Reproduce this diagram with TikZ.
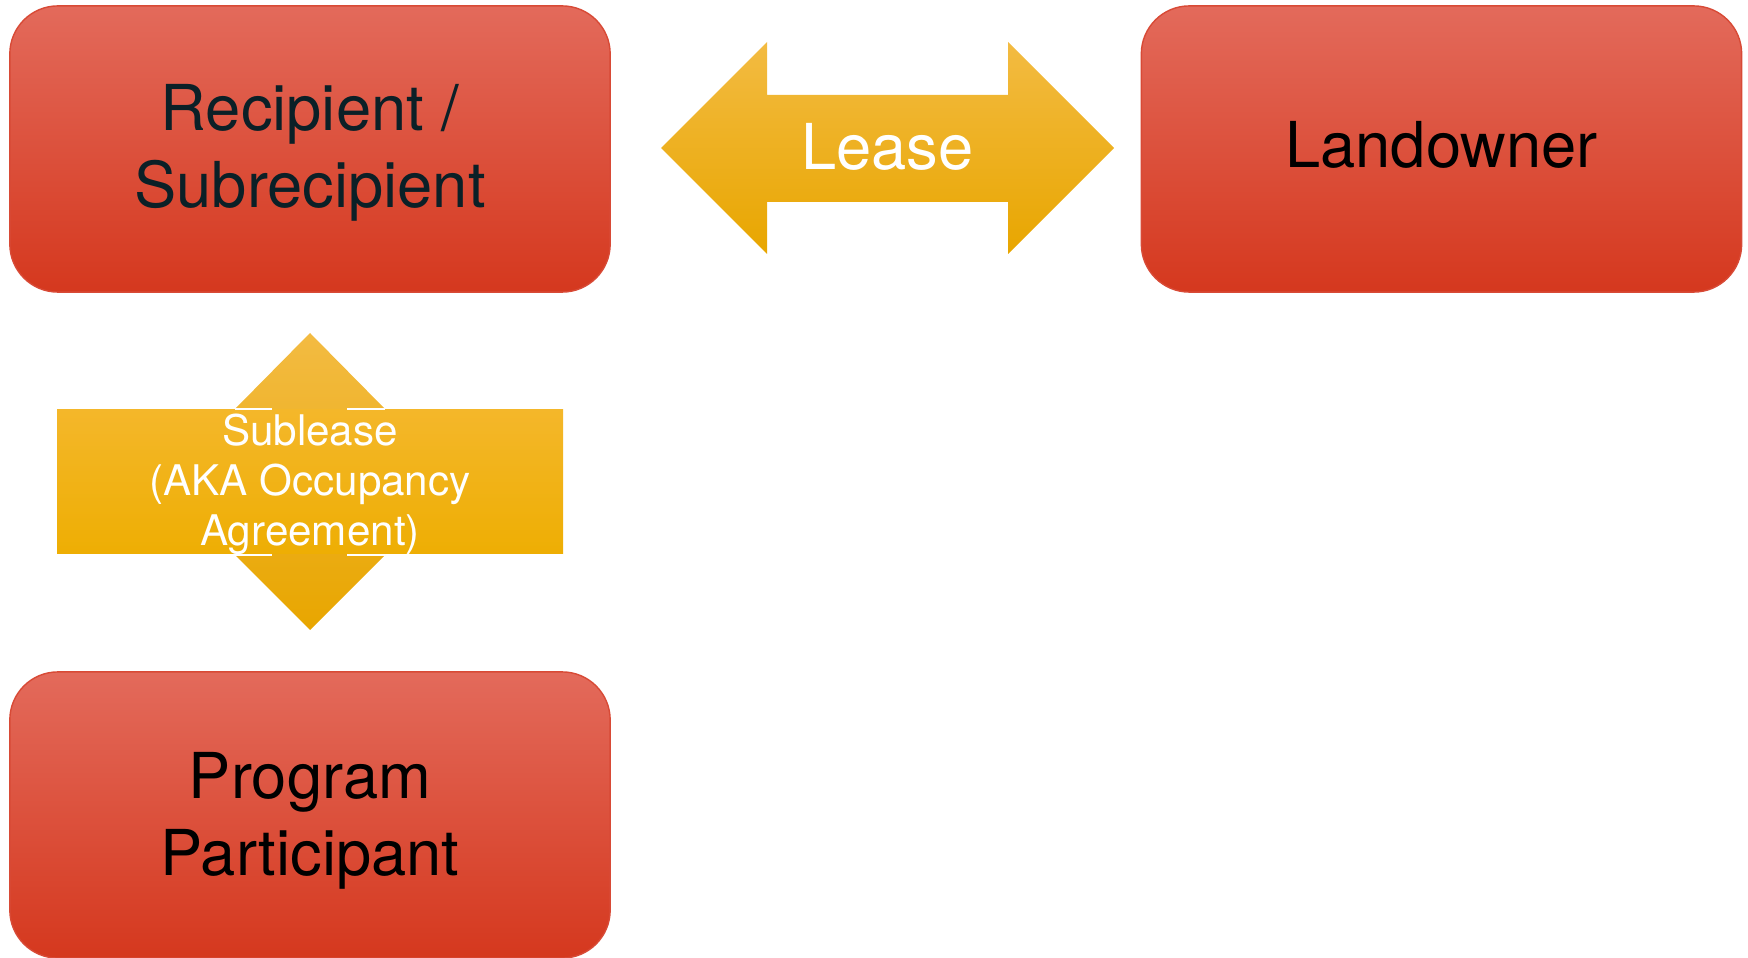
\documentclass[tikz,border=0pt]{standalone}
\usepackage{fontspec}
\setmainfont{TeX Gyre Heros}
\usepackage{xcolor}
\usepackage{tikz}
\usetikzlibrary{calc}
\definecolor{partytop}{HTML}{E36A5B}
\definecolor{partymid}{HTML}{E4472E}
\definecolor{partybot}{HTML}{D5381E}
\definecolor{partyedge}{HTML}{D84A36}
\definecolor{navytext}{HTML}{0B2027}
\definecolor{deedtop}{HTML}{F3BB42}
\definecolor{deedmid}{HTML}{F5B60C}
\definecolor{deedbot}{HTML}{E8A600}
\definecolor{bandtop}{HTML}{F4B72A}
\definecolor{bandbot}{HTML}{EEAE03}
\tikzset{
  party/.style={
    rounded corners=0.48cm,
    draw=partyedge,
    line width=0.4pt,
    top color=partytop,
    middle color=partymid,
    bottom color=partybot,
    minimum width=6cm,
    minimum height=2.86cm,
    align=center,
    font=\fontsize{18}{21.8}\selectfont
  },
  deed/.style={top color=deedtop, middle color=deedmid, bottom color=deedbot, draw=none},
  band/.style={top color=bandtop, bottom color=bandbot, draw=none},
  deedLabel/.style={text=white, font=\fontsize{18}{21.8}\selectfont},
  bandLabel/.style={text=white, align=center, font=\fontsize{12}{14.2}\selectfont},
  seam/.style={draw=white, line width=0.6pt}
}

\begin{document}
\begin{tikzpicture}[x=0.01cm,y=-0.01cm]
\path[use as bounding box] (0,0) rectangle (1748,958);

\node[party, text=navytext] (recip) at (310,149) {};
\node[text=navytext, align=center, font=\fontsize{18}{21.8}\selectfont] (recipText) at (310,153) {Recipient /\\Subrecipient};
\node[party, text=black] (owner) at (1441.5,149) {};
\node[font=\fontsize{18}{21.8}\selectfont] (ownerText) at (1441.5,145) {Landowner};
\node[party, text=black] (participant) at (310,815) {};
\node[align=center, font=\fontsize{18}{21.8}\selectfont] (participantText) at (310,821) {Program\\Participant};

% lease between recipient and landowner
\path[deed] (661,148) -- (767,42) -- (767,95) -- (1008,95) -- (1008,42) -- (1114,148)
  -- (1008,254) -- (1008,202) -- (767,202) -- (767,254) -- cycle;
\node[deedLabel] (lease) at (887.5,147) {Lease};

% sublease between recipient and participant
\path[deed] (310,333) -- (385,409) -- (347,409) -- (347,555) -- (385,555) -- (310,630)
  -- (235,555) -- (272,555) -- (272,409) -- (235,409) -- cycle;
\path[band] (57,410) rectangle (563,554);
\draw[seam] (235,409) -- (272,409) (347,409) -- (385,409);
\draw[seam] (235,555) -- (272,555) (347,555) -- (385,555);
\node[bandLabel] (sublease) at (310,484) {Sublease\\(AKA Occupancy\\Agreement)};
\end{tikzpicture}
\end{document}
